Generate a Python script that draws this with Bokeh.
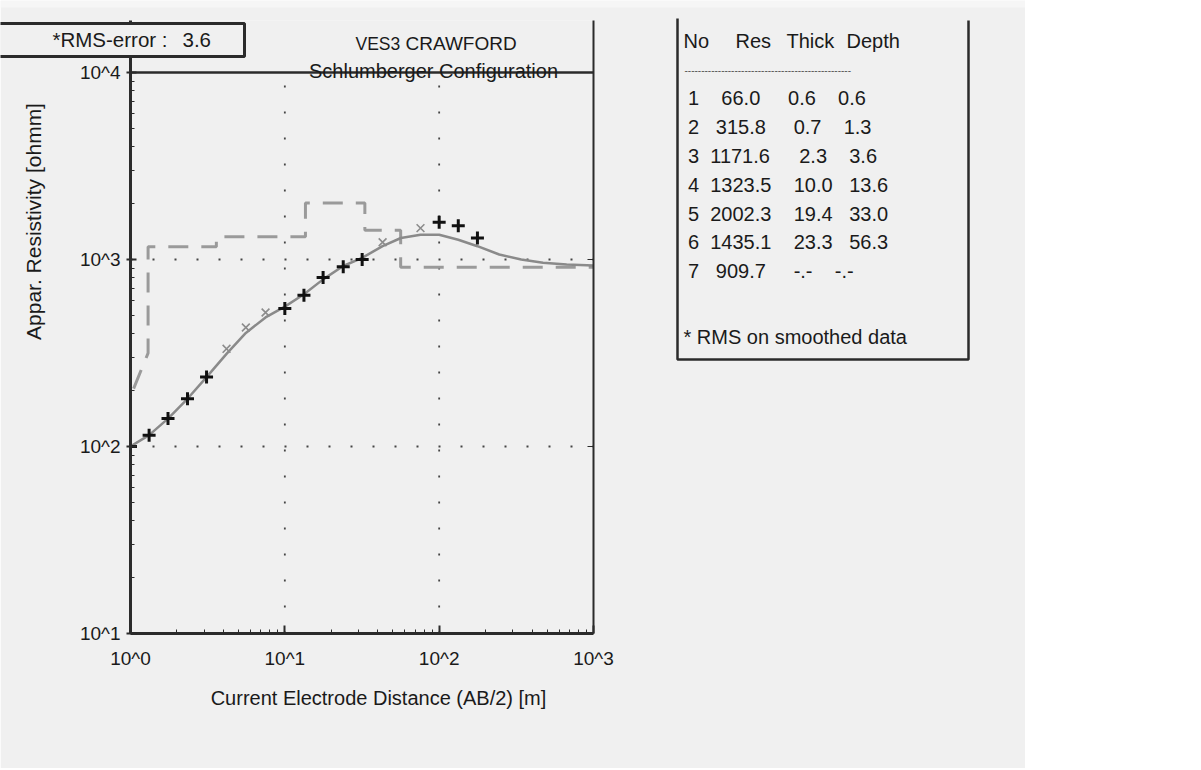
import math
from bokeh.plotting import figure
from bokeh.models import (Range1d, FixedTicker, CustomJSTickFormatter, Span, Label, LogAxis,
                          GridBox, Column)
from bokeh.embed import file_html
from bokeh.resources import INLINE

# ---------------- data ----------------
# smooth model response curve
ab2_fit = [1.0, 1.32, 1.75, 2.34, 3.11, 4.19, 5.59, 7.5, 10.0, 13.3, 17.7, 23.9,
           31.7, 43.0, 56.5, 75.7, 100.0, 133.0, 177.0, 245.0, 340.0, 471.0, 670.0, 1000.0]
rho_fit = [100, 115, 141, 180, 235, 313, 405, 490, 560, 652, 783, 923,
           1021, 1178, 1303, 1357, 1357, 1276, 1178, 1064, 1000, 960, 940, 929]
# measured data used (black +)
ab2_obs = [1.0, 1.32, 1.75, 2.34, 3.11, 10.0, 13.3, 17.7, 23.9, 31.7, 100.0, 133.0, 177.0]
rho_obs = [100, 115, 141, 180, 235, 547, 644, 800, 914, 1000, 1581, 1517, 1303]
# measured data not used (grey x)
ab2_skip = [4.19, 5.59, 7.5, 43.0, 75.7]
rho_skip = [333, 433, 521, 1236, 1472]
# layered model (table)
layer_no = [1, 2, 3, 4, 5, 6, 7]
layer_res = [66.0, 315.8, 1171.6, 1323.5, 2002.3, 1435.1, 909.7]
layer_thick = [0.6, 0.7, 2.3, 10.0, 19.4, 23.3]
layer_depth = [0.6, 1.3, 3.6, 13.6, 33.0, 56.3]
table_header = ["No", "Res", "Thick", "Depth"]
rms_error = 3.6
x_ticks = [1, 10, 100, 1000]
x_tick_labels = ["10^0", "10^1", "10^2", "10^3"]
y_ticks = [10, 100, 1000, 10000]
y_tick_labels = ["10^1", "10^2", "10^3", "10^4"]
x_grid = [10, 100]
y_grid = [100, 1000]

# ---------------- styles ----------------
BG = "#f0f0f0"
LIGHT = "#f6f6f6"
INK = "#1a1a1a"
AX = "#2b2b2b"
FONT = "Liberation Sans"
W, H = 1025, 768

x_minor = [m * 10 ** e for e in range(0, 3) for m in range(2, 10)]
y_minor = [m * 10 ** e for e in range(1, 4) for m in range(2, 10)]

# ================= chart =================
p = figure(width=W, height=H, frame_width=463, frame_height=613,
           x_axis_type="log", y_axis_type="log",
           x_range=Range1d(1, 1000), y_range=Range1d(10, 18970),
           output_backend="svg", toolbar_location=None,
           min_border_left=130, min_border_right=432, min_border_top=20, min_border_bottom=135,
           background_fill_color=BG, border_fill_color=BG, outline_line_color=None)
p.xgrid.visible = False
p.ygrid.visible = False

xa = p.xaxis[0]
xa.ticker = FixedTicker(ticks=x_ticks, minor_ticks=x_minor)
xa.major_label_overrides = dict(zip(x_ticks, x_tick_labels))
xa.axis_line_width = 3
xa.axis_line_color = AX
xa.major_tick_in = 8
xa.major_tick_out = 0
xa.minor_tick_in = 4
xa.minor_tick_out = 0
xa.major_tick_line_color = AX
xa.minor_tick_line_color = AX
xa.major_tick_line_width = 2
xa.major_label_standoff = 14
xa.major_label_text_font = FONT
xa.major_label_text_font_size = "19px"
xa.major_label_text_color = INK

ya = p.yaxis[0]
ya.ticker = FixedTicker(ticks=y_ticks, minor_ticks=y_minor)
ya.major_label_overrides = dict(zip(y_ticks, y_tick_labels))
ya.axis_line_width = 3
ya.axis_line_color = AX
ya.major_tick_in = 6
ya.major_tick_out = 4
ya.minor_tick_in = 4
ya.minor_tick_out = 0
ya.major_tick_line_color = AX
ya.minor_tick_line_color = AX
ya.major_tick_line_width = 2
ya.major_label_standoff = 6
ya.major_label_text_font = FONT
ya.major_label_text_font_size = "19px"
ya.major_label_text_color = INK

ra = LogAxis(ticker=FixedTicker(ticks=y_ticks, minor_ticks=[]),
             formatter=CustomJSTickFormatter(code="return ''"),
             axis_line_width=2, axis_line_color=AX,
             major_tick_in=6, major_tick_out=0, major_tick_line_color=AX,
             minor_tick_line_color=None)
p.add_layout(ra, "right")

# 10^4 line
p.add_layout(Span(location=y_ticks[-1], dimension="width", line_color=AX, line_width=2.5))

# dotted grid
p.segment(x0=x_grid, y0=[y_ticks[0]] * len(x_grid), x1=x_grid, y1=[y_ticks[-1]] * len(x_grid),
          line_color="#444444", line_width=1.8, line_dash="2 24")
p.segment(x0=[x_ticks[0]] * len(y_grid), y0=y_grid, x1=[x_ticks[-1]] * len(y_grid), y1=y_grid,
          line_color="#444444", line_width=1.8, line_dash="2 20")

# layered model as dashed staircase
mx = [layer_depth[0]]
my = [layer_res[0]]
for i in range(1, len(layer_depth)):
    mx += [layer_depth[i], layer_depth[i]]
    my += [layer_res[i], layer_res[i + 1]]
mx.append(x_ticks[-1])
my.append(layer_res[-1])
p.line(mx, my, line_color="#9a9a9a", line_width=3, line_dash="20 13")

# fitted curve
p.line(ab2_fit, rho_fit, line_color="#8a8a8a", line_width=2.5)

# data points
p.scatter(ab2_skip, rho_skip, marker="x", size=11, line_color="#8c8c8c", line_width=1.6)
p.scatter(ab2_obs, rho_obs, marker="cross", size=13, line_color="#111111", line_width=3)

# ================= decorations (transparent overlay, page-pixel coordinates) =================
d = figure(width=W, height=H, x_range=Range1d(0, W), y_range=Range1d(H, 0),
           output_backend="svg", toolbar_location=None, min_border=0,
           x_axis_location=None, y_axis_location=None,
           background_fill_color=None, border_fill_color=None, outline_line_color=None)
d.grid.visible = False

d.quad(left=0, right=W, top=0, bottom=7, fill_color=LIGHT, line_color=None)

def lab(x, y, text, size, align="left", baseline="middle", angle=0.0, color=INK):
    d.add_layout(Label(x=x, y=y, text=text, text_font=FONT, text_font_size=size,
                       text_align=align, text_baseline=baseline, angle=angle,
                       text_color=color))

# axis titles
lab(33, 221, "Appar. Resistivity [ohmm]", "21px", align="center", angle=math.pi / 2)
lab(378, 697, "Current Electrode Distance (AB/2) [m]", "20px", align="center")

# title
lab(355, 43, "VES3", "17.5px", baseline="alphabetic")
lab(405, 43, "CRAWFORD", "19px", baseline="alphabetic")
lab(433, 70, "Schlumberger Configuration", "20px", align="center", baseline="alphabetic")

# RMS box
d.quad(left=-5, right=244, top=23, bottom=56, fill_color=BG, line_color=AX, line_width=3)
lab(52, 39, "*RMS-error :", "20.5px")
lab(182, 39, "%.1f" % rms_error, "20.5px")

# table frame (open at the top)
d.line(x=[677, 677, 968, 968], y=[18, 359, 359, 20], line_color=AX, line_width=2.5)

for hx, htxt in zip([683, 735, 786, 846], table_header):
    lab(hx, 40, htxt, "20px")
lab(684, 69, "-" * 50, "10px", color="#555555")

# rows laid out like the original fixed-format print in a proportional font
FS = 20.0
def tw(s):
    w = 0.0
    for ch in s:
        if ch.isdigit():
            w += 0.556
        elif ch == "-":
            w += 0.333
        else:
            w += 0.278
    return w * FS

row0, drow = 97.7, 28.85
for i, n in enumerate(layer_no):
    y = row0 + drow * i
    th = "%4.1f" % layer_thick[i] if i < len(layer_thick) else " -.-"
    de = "%4.1f" % layer_depth[i] if i < len(layer_depth) else " -.-"
    cells = [(str(n), ""), ("%6.1f" % layer_res[i], "  "), (th, "    "), (de, "   ")]
    x = 687.5
    for txt, gap in cells:
        x += tw(gap)
        lead = len(txt) - len(txt.lstrip(" "))
        x += tw(" " * lead)
        core = txt.strip()
        lab(x, y, core, "20px")
        x += tw(core)
lab(683, 336, "* RMS on smoothed data", "20px")

layout = GridBox(children=[(Column(children=[p]), 0, 0), (Column(children=[d]), 0, 0)])

html = file_html(layout, INLINE)
html = html.replace("<body>", '<body style="background-color:%s;">' % LIGHT, 1)
open("out.html", "w").write(html)
